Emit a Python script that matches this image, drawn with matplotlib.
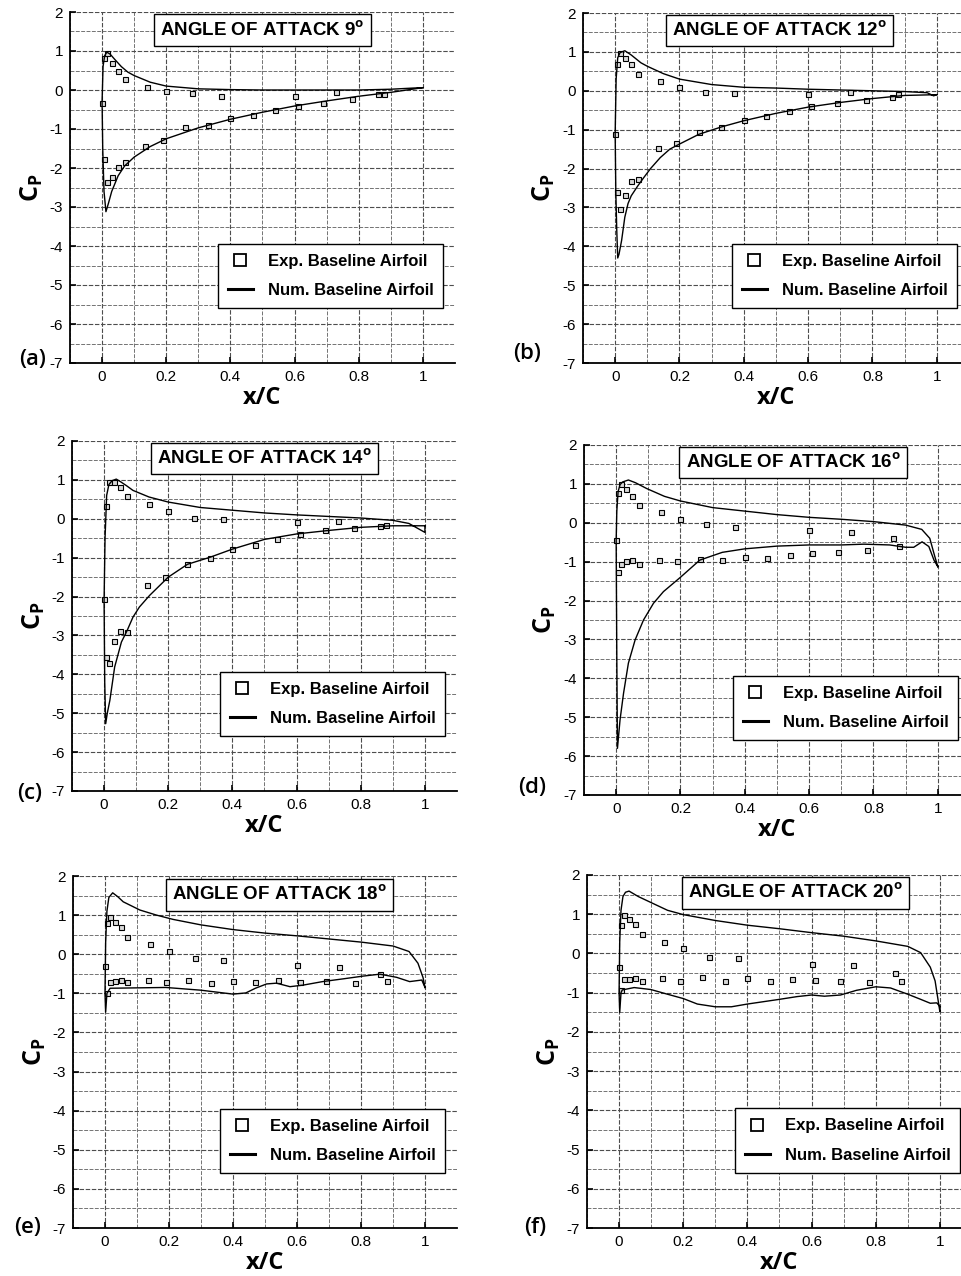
import matplotlib
matplotlib.use("Agg")
from matplotlib import pyplot as plt
import numpy as np

plt.rcParams['font.family'] = ['Liberation Sans', 'DejaVu Sans']
plt.rcParams['mathtext.fontset'] = 'custom'
plt.rcParams['mathtext.rm'] = 'Open Sans'
plt.rcParams['mathtext.bf'] = 'Open Sans:bold'
plt.rcParams['axes.unicode_minus'] = False

# angle of attack per panel and panel tags
aoa = [9, 12, 14, 16, 18, 20]
tags = ['(a)', '(b)', '(c)', '(d)', '(e)', '(f)']

# experimental pressure taps (x/C)
exp_up_x = [0.0, 0.005, 0.015, 0.03, 0.05, 0.07, 0.14, 0.2, 0.28, 0.37, 0.6, 0.73, 0.86]
exp_lo_x = [0.005, 0.015, 0.03, 0.05, 0.07, 0.133, 0.19, 0.26, 0.33, 0.4, 0.47, 0.54, 0.61, 0.69, 0.78, 0.88]

# experimental Cp, one list per angle
exp_up_09 = [-0.33, 0.83, 0.95, 0.68, 0.50, 0.29, 0.08, -0.03, -0.07, -0.15, -0.15, -0.05, -0.10]
exp_lo_09 = [-1.77, -2.36, -2.23, -1.98, -1.85, -1.44, -1.27, -0.96, -0.90, -0.73, -0.65, -0.52, -0.42, -0.33, -0.24, -0.10]
exp_up_12 = [-1.11, 0.69, 0.97, 0.84, 0.69, 0.43, 0.25, 0.09, -0.03, -0.06, -0.09, -0.03, -0.15]
exp_lo_12 = [-2.60, -3.04, -2.69, -2.31, -2.26, -1.47, -1.35, -1.05, -0.93, -0.76, -0.64, -0.51, -0.40, -0.32, -0.23, -0.09]
exp_up_14 = [-2.07, 0.32, 0.95, 0.95, 0.82, 0.58, 0.39, 0.20, 0.03, -0.01, -0.08, -0.05, -0.19]
exp_lo_14 = [-3.55, -3.72, -3.14, -2.89, -2.90, -1.69, -1.50, -1.16, -1.02, -0.77, -0.68, -0.51, -0.40, -0.30, -0.24, -0.15]
exp_up_16 = [-0.44, 0.77, 1.00, 0.86, 0.69, 0.46, 0.27, 0.09, -0.04, -0.10, -0.19, -0.23, -0.40]
exp_lo_16 = [-1.26, -1.06, -0.99, -0.96, -1.06, -0.96, -0.98, -0.94, -0.96, -0.89, -0.91, -0.83, -0.79, -0.74, -0.70, -0.60]
exp_up_18 = [-0.30, 0.79, 0.96, 0.83, 0.69, 0.43, 0.25, 0.08, -0.10, -0.15, -0.27, -0.32, -0.51]
exp_lo_18 = [-1.00, -0.70, -0.68, -0.67, -0.71, -0.67, -0.70, -0.67, -0.74, -0.68, -0.72, -0.67, -0.70, -0.69, -0.74, -0.68]
exp_up_20 = [-0.34, 0.72, 0.98, 0.87, 0.74, 0.49, 0.30, 0.13, -0.08, -0.11, -0.26, -0.29, -0.51]
exp_lo_20 = [-0.94, -0.64, -0.64, -0.63, -0.71, -0.62, -0.70, -0.61, -0.70, -0.63, -0.70, -0.66, -0.67, -0.69, -0.72, -0.69]

# numerical Cp: pressure side (ps) and suction side (ss), both from the leading edge
ps_x_09 = [0.0, 0.003, 0.008, 0.015, 0.025, 0.04, 0.06, 0.08, 0.1, 0.15, 0.2, 0.3, 0.4, 0.5, 0.6, 0.7, 0.8, 0.9, 0.97, 1.0]
ps_y_09 = [-0.3, 0.6, 0.88, 0.97, 0.92, 0.78, 0.6, 0.46, 0.37, 0.2, 0.1, 0.03, 0.01, 0.0, 0.0, 0.0, 0.0, 0.02, 0.05, 0.06]
ss_x_09 = [0.0, 0.002, 0.006, 0.012, 0.02, 0.03, 0.05, 0.07, 0.1, 0.15, 0.2, 0.3, 0.4, 0.5, 0.6, 0.7, 0.8, 0.9, 1.0]
ss_y_09 = [-0.3, -1.5, -2.6, -3.12, -2.9, -2.6, -2.2, -1.95, -1.72, -1.45, -1.25, -0.97, -0.75, -0.57, -0.41, -0.28, -0.16, -0.06, 0.06]

ps_x_12 = [0.0, 0.003, 0.008, 0.015, 0.03, 0.05, 0.08, 0.1, 0.15, 0.2, 0.3, 0.4, 0.5, 0.6, 0.7, 0.8, 0.9, 0.97, 0.99, 1.0]
ps_y_12 = [-1.1, 0.3, 0.85, 0.98, 1.03, 0.92, 0.72, 0.63, 0.44, 0.3, 0.16, 0.09, 0.07, 0.04, 0.02, 0.0, -0.02, -0.05, -0.13, -0.1]
ss_x_12 = [0.0, 0.002, 0.005, 0.008, 0.012, 0.02, 0.03, 0.04, 0.05, 0.07, 0.09, 0.11, 0.14, 0.17, 0.2, 0.26, 0.33, 0.4, 0.5, 0.6, 0.7, 0.8, 0.9, 1.0]
ss_y_12 = [-1.1, -2.6, -3.6, -4.3, -4.2, -3.85, -3.25, -2.9, -2.7, -2.45, -2.22, -2.0, -1.72, -1.5, -1.37, -1.12, -0.93, -0.77, -0.58, -0.42, -0.3, -0.2, -0.12, -0.1]

ps_x_14 = [0.0, 0.003, 0.008, 0.015, 0.025, 0.038, 0.05, 0.07, 0.09, 0.14, 0.2, 0.3, 0.4, 0.5, 0.6, 0.7, 0.8, 0.9, 0.95, 1.0]
ps_y_14 = [-2.1, -0.5, 0.6, 0.88, 0.98, 1.02, 0.96, 0.85, 0.73, 0.56, 0.43, 0.29, 0.22, 0.15, 0.1, 0.06, 0.02, -0.04, -0.12, -0.35]
ss_x_14 = [0.0, 0.002, 0.005, 0.01, 0.018, 0.033, 0.054, 0.072, 0.09, 0.11, 0.142, 0.2, 0.26, 0.33, 0.4, 0.5, 0.6, 0.7, 0.8, 0.9, 1.0]
ss_y_14 = [-2.1, -4.2, -5.27, -5.0, -4.67, -3.81, -3.17, -2.87, -2.53, -2.27, -1.97, -1.5, -1.17, -0.99, -0.78, -0.53, -0.39, -0.3, -0.22, -0.18, -0.18]

ps_x_16 = [0.0, 0.002, 0.006, 0.012, 0.02, 0.038, 0.06, 0.095, 0.15, 0.2, 0.3, 0.4, 0.5, 0.6, 0.7, 0.8, 0.9, 0.95, 0.975, 0.99, 1.0]
ps_y_16 = [-0.45, 0.3, 0.8, 0.98, 1.05, 1.1, 1.03, 0.88, 0.68, 0.56, 0.39, 0.3, 0.21, 0.14, 0.09, 0.03, -0.06, -0.17, -0.4, -0.85, -1.13]
ss_x_16 = [0.0, 0.002, 0.004, 0.012, 0.023, 0.038, 0.059, 0.085, 0.116, 0.147, 0.2, 0.26, 0.33, 0.4, 0.5, 0.6, 0.7, 0.77, 0.85, 0.9, 0.925, 0.951, 0.972, 0.988, 1.0]
ss_y_16 = [-0.45, -3.5, -5.8, -5.07, -4.38, -3.61, -3.01, -2.5, -2.07, -1.77, -1.4, -0.96, -0.76, -0.67, -0.6, -0.57, -0.57, -0.55, -0.57, -0.63, -0.63, -0.49, -0.61, -0.96, -1.13]

ps_x_18 = [0.0, 0.002, 0.006, 0.012, 0.024, 0.04, 0.057, 0.109, 0.161, 0.213, 0.3, 0.4, 0.5, 0.6, 0.7, 0.8, 0.9, 0.95, 0.978, 0.994, 1.0]
ps_y_18 = [-1.0, 0.3, 1.1, 1.45, 1.57, 1.47, 1.34, 1.13, 1.0, 0.89, 0.75, 0.63, 0.54, 0.47, 0.39, 0.31, 0.21, 0.07, -0.23, -0.6, -0.85]
ss_x_18 = [0.0, 0.002, 0.006, 0.016, 0.1, 0.19, 0.3, 0.35, 0.4, 0.44, 0.47, 0.505, 0.536, 0.578, 0.619, 0.68, 0.744, 0.806, 0.859, 0.911, 0.952, 0.99, 1.0]
ss_y_18 = [-1.0, -1.48, -1.0, -0.87, -0.86, -0.85, -0.92, -0.97, -1.02, -0.99, -0.87, -0.76, -0.74, -0.83, -0.79, -0.7, -0.63, -0.56, -0.51, -0.59, -0.7, -0.66, -0.85]

ps_x_20 = [0.0, 0.002, 0.006, 0.012, 0.02, 0.031, 0.06, 0.099, 0.151, 0.2, 0.3, 0.4, 0.5, 0.6, 0.7, 0.8, 0.9, 0.94, 0.97, 0.985, 1.0]
ps_y_20 = [-1.0, 0.3, 1.1, 1.45, 1.56, 1.59, 1.45, 1.3, 1.1, 0.99, 0.84, 0.72, 0.63, 0.53, 0.44, 0.32, 0.18, 0.02, -0.35, -0.7, -1.49]
ss_x_20 = [0.0, 0.002, 0.006, 0.01, 0.047, 0.099, 0.151, 0.2, 0.244, 0.3, 0.35, 0.4, 0.45, 0.5, 0.555, 0.6, 0.64, 0.69, 0.74, 0.8, 0.846, 0.9, 0.94, 0.97, 0.99, 1.0]
ss_y_20 = [-1.0, -1.5, -1.0, -0.93, -0.87, -0.92, -1.04, -1.15, -1.29, -1.36, -1.36, -1.29, -1.23, -1.17, -1.1, -1.06, -1.09, -1.06, -0.94, -0.85, -0.88, -1.04, -1.17, -1.27, -1.26, -1.35]

exp_up = [exp_up_09, exp_up_12, exp_up_14, exp_up_16, exp_up_18, exp_up_20]
exp_lo = [exp_lo_09, exp_lo_12, exp_lo_14, exp_lo_16, exp_lo_18, exp_lo_20]
num = [(ps_x_09, ps_y_09, ss_x_09, ss_y_09), (ps_x_12, ps_y_12, ss_x_12, ss_y_12),
       (ps_x_14, ps_y_14, ss_x_14, ss_y_14), (ps_x_16, ps_y_16, ss_x_16, ss_y_16),
       (ps_x_18, ps_y_18, ss_x_18, ss_y_18), (ps_x_20, ps_y_20, ss_x_20, ss_y_20)]

# layout in pixels: left, top, width, height
W, H = 962, 1276
boxes = [(70, 12, 385, 351), (583, 13, 386, 350),
         (72, 441, 385, 350), (584, 445, 386, 350),
         (73, 876, 384, 352), (587, 875, 385, 353)]
tag_pos = [(33, 360), (527, 353), (30, 793), (532, 788), (28, 1228), (535, 1227)]
title_pos = [(0.5, 1.53), (0.51, 1.55), (0.5, 1.55), (0.55, 1.55), (0.545, 1.52), (0.55, 1.55)]

fig = plt.figure(figsize=(W / 100, H / 100), dpi=100)

for i in range(6):
    l, t, w, h = boxes[i]
    ax = fig.add_axes([l / W, 1 - (t + h) / H, w / W, h / H])
    ax.set_xlim(-0.1, 1.1)
    ax.set_ylim(-7, 2)

    ax.set_xticks(np.arange(0, 1.01, 0.2))
    ax.set_xticklabels(['0', '0.2', '0.4', '0.6', '0.8', '1'])
    ax.set_xticks([-0.1, 0.1, 0.3, 0.5, 0.7, 0.9, 1.1], minor=True)
    ax.set_yticks(np.arange(-7, 2.1, 1))
    ax.set_yticks(np.arange(-6.5, 2.1, 0.5)[::2], minor=True)
    ax.grid(which='major', color='0.3', linestyle=(0, (4, 1.5)), linewidth=0.8)
    ax.grid(which='minor', color='0.45', linestyle=(0, (4, 1.5)), linewidth=0.7)
    ax.set_axisbelow(True)
    for s in ['top', 'right']:
        ax.spines[s].set_visible(False)
    for s in ['left', 'bottom']:
        ax.spines[s].set_linewidth(1.3)
    ax.tick_params(which='major', direction='in', length=4, width=1.2, labelsize=11, pad=5)
    ax.tick_params(which='minor', direction='in', length=0)

    ps_x, ps_y, ss_x, ss_y = num[i]
    loop_x = ss_x[::-1] + ps_x[1:] + [ss_x[-1]]
    loop_y = ss_y[::-1] + ps_y[1:] + [ss_y[-1]]

    ax.plot(exp_up_x, exp_up[i], 's', ms=3.6, mfc='0.85', mec='black', mew=0.8,
            label='Exp. Baseline Airfoil', zorder=3)
    ax.plot(exp_lo_x, exp_lo[i], 's', ms=3.6, mfc='0.85', mec='black', mew=0.8, zorder=3)
    ax.plot(loop_x, loop_y, color='black', linewidth=1.0, label='Num. Baseline Airfoil', zorder=4)

    ax.text(title_pos[i][0], title_pos[i][1], 'ANGLE OF ATTACK %d$^{\\mathbf{o}}$' % aoa[i],
            ha='center', va='center', fontsize=13.5, fontweight='bold', zorder=5,
            bbox=dict(boxstyle='square,pad=0.33', fc='white', ec='black', lw=1.0))

    leg = ax.legend(loc='lower right', bbox_to_anchor=(0.97, 0.157), borderaxespad=0,
                    fancybox=False, edgecolor='black', framealpha=1, markerscale=2.4,
                    prop={'weight': 'bold', 'size': 12}, handlelength=1.5,
                    handletextpad=0.9, labelspacing=0.85, borderpad=0.6)
    leg.get_frame().set_linewidth(1.0)
    leg.set_zorder(6)
    hs = leg.legend_handles
    hs[0].set_markerfacecolor('white')
    hs[0].set_markeredgewidth(1.3)
    hs[1].set_linewidth(2.2)

    ax.set_xlabel('x/C', fontsize=17, fontweight='bold', family='Open Sans')
    ax.xaxis.set_label_coords(0.5, -0.065)
    ax.set_ylabel(r'$\mathbf{C_P}$', fontsize=18, va='center')
    ax.yaxis.set_label_coords(-0.1, 0.5)

    fig.text(tag_pos[i][0] / W, 1 - tag_pos[i][1] / H, tags[i], fontsize=16,
             fontweight='semibold', family='Open Sans', ha='center', va='center')

plt.savefig("out.png", dpi=100)
